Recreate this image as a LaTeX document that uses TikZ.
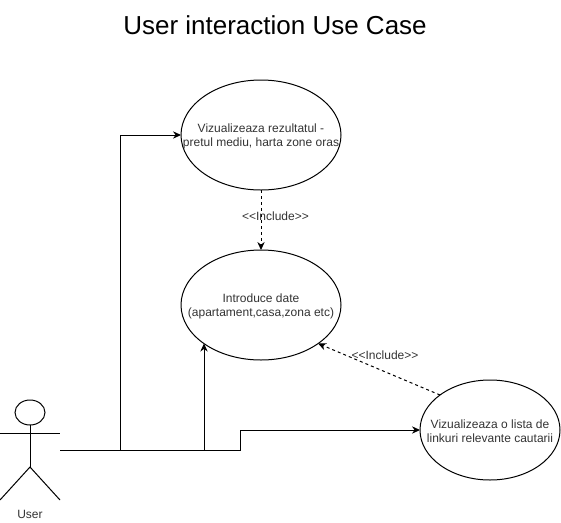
\documentclass[tikz,border=0pt]{standalone}
\usepackage{fontspec}
\setmainfont{Liberation Sans}
\usetikzlibrary{positioning,arrows.meta,shapes.geometric}

\begin{document}
\begin{tikzpicture}[
  x=0.75pt, y=-0.75pt, line width=0.75pt,
  usecase/.style={draw, ellipse, inner sep=0pt, outer sep=0pt,
                  minimum width=120pt, minimum height=82.5pt},
  smallcase/.style={usecase, minimum width=105pt, minimum height=75pt},
  casetext/.style={align=center, inner sep=0pt, text=black!80, yshift=-0.75pt,
                   font=\fontsize{9}{10.5}\selectfont},
  tag/.style={font=\fontsize{9}{11}\selectfont, text=black!80, inner sep=0pt},
  arr/.style={-{Stealth[length=6pt,width=5.5pt]}},
  dep/.style={arr, dashed, dash pattern=on 2.25pt off 2.25pt},
  ]
  \useasboundingbox (0,0) rectangle (561,522);

  \node[font=\fontsize{19.5}{24}\selectfont] (title) at (275,25) {User interaction Use Case};

  \node[usecase, label={[casetext]center:Vizualizeaza rezultatul -\\pretul mediu, harta zone oras}] (result) at (261,135) {};
  \node[usecase, below=45pt of result, label={[casetext]center:Introduce date\\(apartament,casa,zona etc)}] (input) {};
  \node[smallcase, label={[casetext]center:Vizualizeaza o lista de\\linkuri relevante cautarii}] (links) at (490,430) {};

  % actor
  \node[draw, ellipse, inner sep=0pt, outer sep=0pt, minimum width=22.5pt, minimum height=18.75pt] (head) at (30,412.5) {};
  \coordinate (hip) at (30,467);
  \coordinate (armL) at (0,433);
  \coordinate (armR) at (60,433);
  \coordinate (footL) at (0,500);
  \coordinate (footR) at (60,500);
  \draw (head) -- (hip);
  \draw (armL) -- (armR);
  \draw (footL) -- (hip) -- (footR);
  \node[tag] (user) at (30,514) {User};

  % connectors
  \coordinate (start) at (60,450);
  \coordinate (kneeA) at (120,450);
  \coordinate (kneeB) at (204,450);
  \coordinate (kneeC) at (240,450);
  \draw[arr] (start) -- (kneeA) |- (result.west);
  \draw[arr] (kneeA) -- (kneeB) -- (kneeB |- input.214);
  \draw[arr] (kneeB) -- (kneeC) |- (links.west);

  \draw[dep] (result) -- (input);
  \draw[dep] (links.145) -- (input.-34);

  \node[tag] (inclA) at (275.5,216) {<{}<Include>{}>};
  \node[tag] (inclB) at (385,355) {<{}<Include>{}>};
\end{tikzpicture}
\end{document}
